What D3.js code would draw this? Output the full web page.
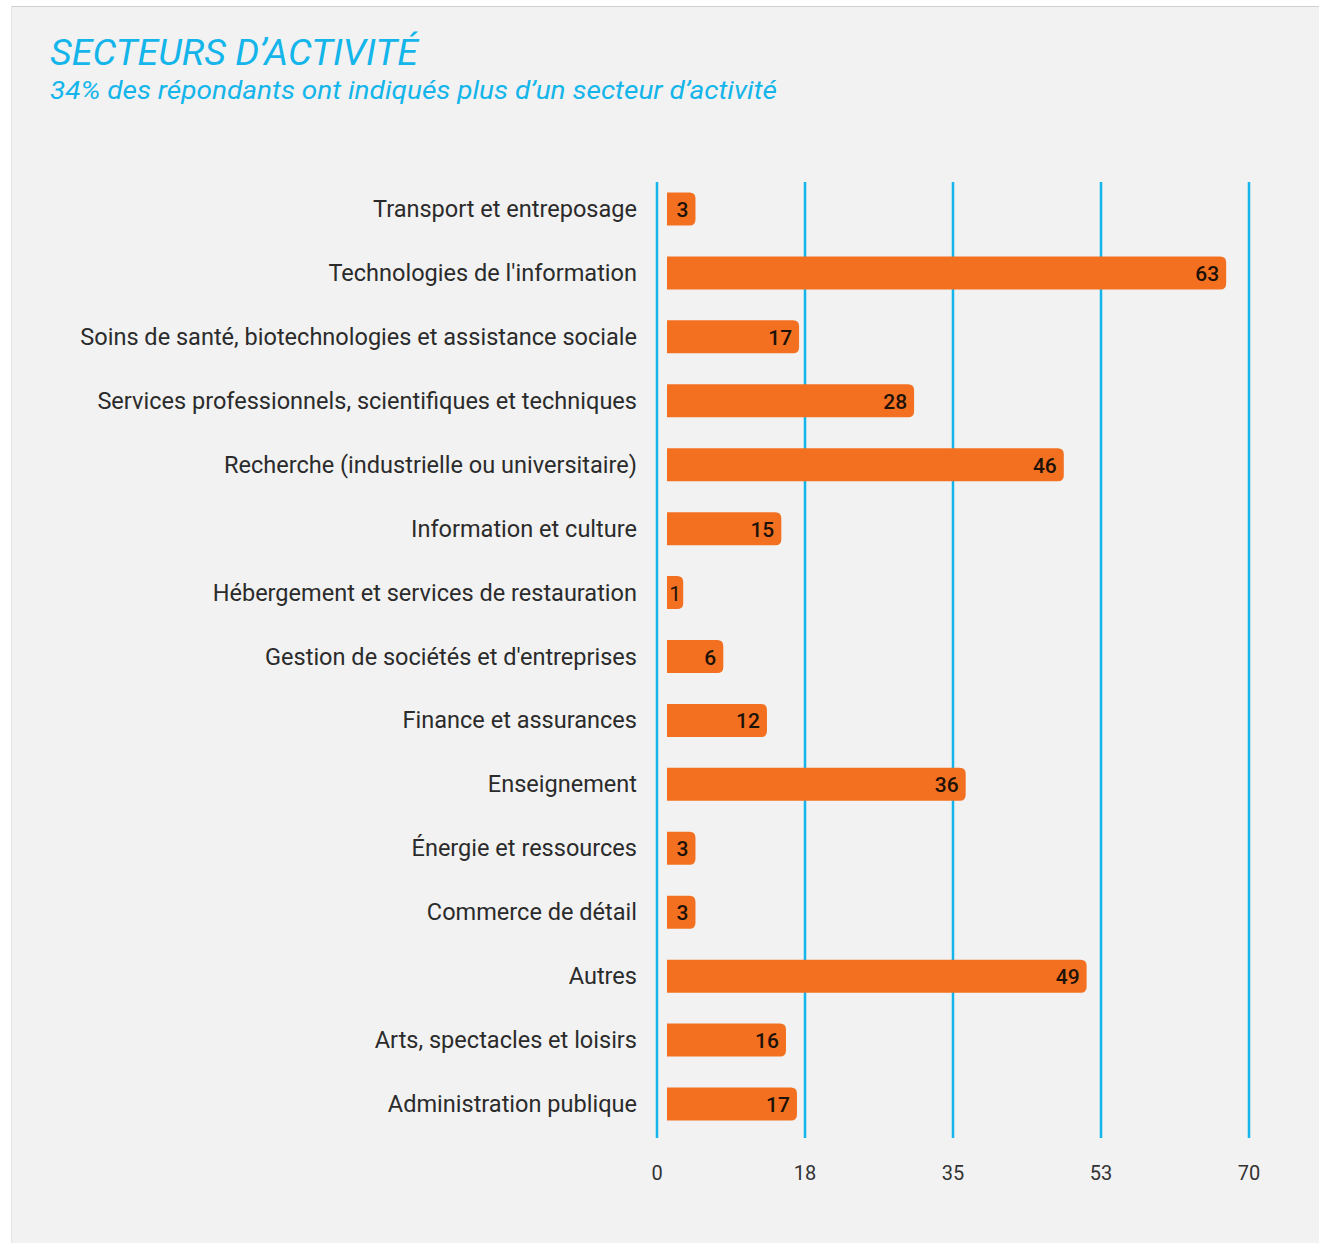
<!DOCTYPE html>
<html>
<head>
<meta charset="utf-8">
<script src="https://cdn.jsdelivr.net/npm/d3@7"></script>
<style>
  html, body { margin: 0; padding: 0; background: #ffffff; }
  svg { display: block; }
</style>
</head>
<body>
<svg id="chart" width="1319" height="1243"></svg>
<script>
// ---- Data ----
const categories = [
  "Transport et entreposage",
  "Technologies de l'information",
  "Soins de santé, biotechnologies et assistance sociale",
  "Services professionnels, scientifiques et techniques",
  "Recherche (industrielle ou universitaire)",
  "Information et culture",
  "Hébergement et services de restauration",
  "Gestion de sociétés et d'entreprises",
  "Finance et assurances",
  "Enseignement",
  "Énergie et ressources",
  "Commerce de détail",
  "Autres",
  "Arts, spectacles et loisirs",
  "Administration publique"
];
// labelled values
const values = [3, 63, 17, 28, 46, 15, 1, 6, 12, 36, 3, 3, 49, 16, 17];
// bar extents as read against the axis in the picture (axis units)
const barExtent = [4.55, 67.3, 16.8, 30.4, 48.1, 14.7, 3.1, 7.84, 13.0, 36.5, 4.55, 4.55, 50.8, 15.25, 16.55];
const tickValues = [0, 17.5, 35, 52.5, 70];
const tickLabels = ["0", "18", "35", "53", "70"];
const title = "SECTEURS D’ACTIVITÉ";
const subtitle = "34% des répondants ont indiqués plus d’un secteur d’activité";

// ---- Styles ----
const cyan = "#13b5ea";
const orange = "#f37021";
const font = "Roboto, 'Noto Sans', sans-serif";

const svg = d3.select("#chart");

// panel
svg.append("rect").attr("x", 11).attr("y", 6).attr("width", 1308).attr("height", 1237)
  .attr("fill", "#f2f2f2");
svg.append("line").attr("x1", 11).attr("x2", 1319).attr("y1", 6.5).attr("y2", 6.5)
  .attr("stroke", "#cfcfcf").attr("stroke-width", 1);
svg.append("line").attr("x1", 11.5).attr("x2", 11.5).attr("y1", 6).attr("y2", 1243)
  .attr("stroke", "#e4e4e4").attr("stroke-width", 1);

// titles
svg.append("text").attr("x", 50).attr("y", 65)
  .attr("font-family", font).attr("font-style", "italic").attr("font-size", 37)
  .attr("fill", cyan).attr("textLength", 368).attr("lengthAdjust", "spacingAndGlyphs")
  .text(title);
svg.append("text").attr("x", 50).attr("y", 99)
  .attr("font-family", font).attr("font-style", "italic").attr("font-size", 25)
  .attr("fill", cyan).attr("textLength", 727).attr("lengthAdjust", "spacingAndGlyphs")
  .text(subtitle);

// scales
const x = d3.scaleLinear().domain([0, 70]).range([657, 1249]);
const y = d3.scalePoint().domain(categories).range([209, 1104]);
const barH = 33, barGap = 10, r = 6;

// gridlines
svg.append("g").selectAll("line").data(tickValues).join("line")
  .attr("x1", d => x(d)).attr("x2", d => x(d))
  .attr("y1", 182).attr("y2", 1138)
  .attr("stroke", cyan).attr("stroke-width", 2.5);

// tick labels
svg.append("g").selectAll("text").data(tickValues).join("text")
  .attr("x", d => x(d)).attr("y", 1180)
  .attr("text-anchor", "middle")
  .attr("font-family", font).attr("font-size", 20).attr("fill", "#333")
  .text((d, i) => tickLabels[i]);

// bars
function barPath(x0, x1, yc) {
  const t = yc - barH / 2, b = yc + barH / 2;
  const rr = Math.min(r, (x1 - x0) / 2);
  return `M${x0},${t} H${x1 - rr} Q${x1},${t} ${x1},${t + rr} V${b - rr} Q${x1},${b} ${x1 - rr},${b} H${x0} Z`;
}
const rows = categories.map((c, i) => ({ c, v: values[i], e: barExtent[i] }));

svg.append("g").selectAll("path").data(rows).join("path")
  .attr("d", d => barPath(x(0) + barGap, x(d.e), y(d.c)))
  .attr("fill", orange);

// value labels
svg.append("g").selectAll("text").data(rows).join("text")
  .attr("x", d => d.v <= 1 ? (x(0) + barGap + x(d.e)) / 2 : x(d.e) - 7)
  .attr("y", d => y(d.c) + 8)
  .attr("text-anchor", d => d.v <= 1 ? "middle" : "end")
  .attr("font-family", font).attr("font-weight", d => d.v <= 1 ? 400 : 500)
  .attr("font-size", 21).attr("fill", "#1d1208")
  .text(d => d.v);

// category labels, fitted so the widest label matches the picture
const catG = svg.append("g");
const labels = catG.selectAll("text").data(categories).join("text")
  .attr("x", 637).attr("y", d => y(d) + 8)
  .attr("text-anchor", "end")
  .attr("font-family", font).attr("font-size", 21).attr("fill", "#2b2b2b")
  .text(d => d);
let maxW = 0;
labels.each(function () { maxW = Math.max(maxW, this.getComputedTextLength()); });
const fs = 21 * 557 / maxW;
labels.attr("font-size", fs);
</script>
</body>
</html>
